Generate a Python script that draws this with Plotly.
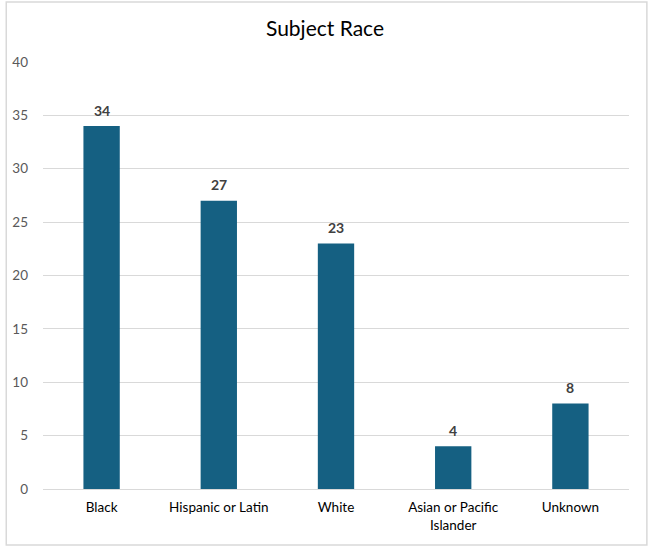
import plotly.graph_objects as go

# Subject race counts
categories = ["Black", "Hispanic or Latin", "White", "Asian or Pacific<br>Islander", "Unknown"]
counts = [34, 27, 23, 4, 8]
y_ticks = [0, 5, 10, 15, 20, 25, 30, 35, 40]

bar_color = "#156082"
font_family = "Lato, 'Open Sans', sans-serif"

fig = go.Figure()
fig.add_trace(go.Bar(
    x=categories,
    y=counts,
    marker=dict(color=bar_color, line=dict(width=0)),
    width=0.31,
    cliponaxis=False,
    hoverinfo="x+y",
))

# data labels sit a little higher above the bars than plotly's own outside text
for cat, val in zip(categories, counts):
    fig.add_annotation(
        x=cat, y=val,
        text=str(val),
        showarrow=False,
        yanchor="middle",
        yshift=16,
        font=dict(family=font_family, size=14, color="#404040", weight="bold"),
    )

fig.update_layout(
    width=650,
    height=548,
    margin=dict(l=39, r=21, t=62, b=59),
    paper_bgcolor="white",
    plot_bgcolor="white",
    showlegend=False,
    title=dict(
        text="Subject Race",
        x=0.5,
        xanchor="center",
        y=0.948,
        yanchor="middle",
        font=dict(family=font_family, size=21, color="#000000"),
    ),
    font=dict(family=font_family, size=13, color="#595959"),
    bargap=0.69,
)

fig.update_xaxes(
    showgrid=False,
    showline=True,
    linecolor="#d9d9d9",
    linewidth=1,
    ticks="",
    tickfont=dict(family=font_family, size=13.5, color="#000000"),
    ticklabelstandoff=6,
)
fig.update_yaxes(
    range=[0, 40],
    tickvals=y_ticks,
    showgrid=True,
    gridcolor="#d9d9d9",
    gridwidth=1,
    zeroline=False,
    showline=False,
    ticks="",
    tickfont=dict(family=font_family, size=13.5, color="#595959"),
    ticklabelstandoff=14,
)

# light border round the whole chart
fig.add_shape(
    type="rect",
    xref="paper", yref="paper",
    x0=-0.0627, x1=1.0305, y0=-0.131, y1=1.1405,
    line=dict(color="#d9d9d9", width=1.5),
    fillcolor="rgba(0,0,0,0)",
    layer="below",
)

# drop the browser's default page margin so the chart sits at the top-left
fig.write_html(
    "out.html",
    config={"displayModeBar": False},
    post_script="document.body.style.margin='0';",
)
